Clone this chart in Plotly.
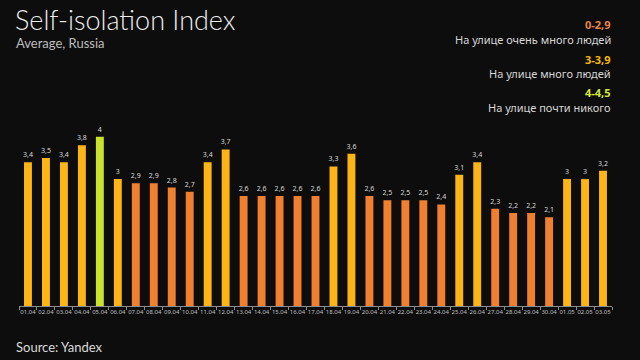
import plotly.graph_objects as go

dates = ["01.04","02.04","03.04","04.04","05.04","06.04","07.04","08.04","09.04","10.04",
         "11.04","12.04","13.04","14.04","15.04","16.04","17.04","18.04","19.04","20.04",
         "21.04","22.04","23.04","24.04","25.04","26.04","27.04","28.04","29.04","30.04",
         "01.05","02.05","03.05"]
values = [3.4, 3.5, 3.4, 3.8, 4.0, 3.0, 2.9, 2.9, 2.8, 2.7,
          3.4, 3.7, 2.6, 2.6, 2.6, 2.6, 2.6, 3.3, 3.6, 2.6,
          2.5, 2.5, 2.5, 2.4, 3.1, 3.4, 2.3, 2.2, 2.2, 2.1,
          3.0, 3.0, 3.2]

ORANGE = "#F0802F"
AMBER = "#FDB515"
LIME = "#CBE22C"

def color_for(v):
    if v < 3:
        return ORANGE
    if v < 4:
        return AMBER
    return LIME

def fmt(v):
    return ("%g" % v).replace(".", ",")

colors = [color_for(v) for v in values]
labels = [fmt(v) for v in values]

PL, PR, PT, PB = 19, 612, 100, 306

fig = go.Figure(go.Bar(
    x=dates, y=values, marker=dict(color=colors, line=dict(width=0)),
    text=labels, textposition="outside", cliponaxis=False, constraintext="none",
    textfont=dict(size=7, color="#d9d9d9", family="Noto Sans"),
    hoverinfo="skip",
))

fig.update_layout(
    width=640, height=360,
    paper_bgcolor="#0d0d0d", plot_bgcolor="#0d0d0d",
    margin=dict(l=PL, r=640 - PR, t=PT, b=360 - PB),
    bargap=0.56, showlegend=False,
    font=dict(family="Noto Sans", color="#d9d9d9"),
    xaxis=dict(type="category", showgrid=False, showline=True, linecolor="#8c8c8c", linewidth=1,
               ticks="outside", ticklen=3, tickcolor="#8c8c8c", tickson="boundaries",
               tickfont=dict(size=6, color="#bfbfbf"), tickangle=0, range=[-0.5, 32.5]),
    yaxis=dict(visible=False, range=[0, 4.87]),
)

def ann(text, px, py, size, color, anchor="left", bold=False, family="Noto Sans", weight=None):
    xp = (px - PL) / (PR - PL)
    yp = (PB - py) / (PB - PT)
    t = "<b>%s</b>" % text if bold else text
    f = dict(size=size, color=color, family=family)
    if weight:
        f["weight"] = weight
    fig.add_annotation(xref="paper", yref="paper", x=xp, y=yp, xanchor=anchor, yanchor="middle",
                       text=t, showarrow=False, font=f)

ann("Self-isolation Index", 13, 20, 27, "#ececec", family="Lato", weight=300)
ann("Average, Russia", 14, 43, 13, "#bdbdbd", family="Lato")
ann("0-2,9", 613, 25, 11, "#E8824A", anchor="right", bold=True)
ann("На улице очень много людей", 613, 40, 11, "#d6d6d6", anchor="right")
ann("3-3,9", 613, 59, 11, "#F5B800", anchor="right", bold=True)
ann("На улице много людей", 613, 73, 11, "#d6d6d6", anchor="right")
ann("4-4,5", 613, 92, 11, "#D4E83A", anchor="right", bold=True)
ann("На улице почти никого", 613, 107, 11, "#d6d6d6", anchor="right")
ann("Source: Yandex", 14, 347, 13, "#d9d9d9", family="Lato")

fig.write_html("out.html", config={"displayModeBar": False},
               post_script="document.body.style.margin='0';")
